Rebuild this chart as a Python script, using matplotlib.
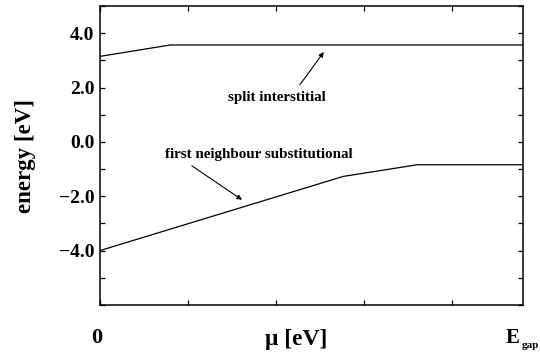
import matplotlib.pyplot as plt
from matplotlib.ticker import MultipleLocator

plt.rcParams["font.family"] = ["Liberation Serif", "DejaVu Serif"]
plt.rcParams["font.weight"] = "bold"

# chemical potential across the gap (eV) and formation energies (eV)
e_gap = 1.2
mu_split = [0.0, 0.2, e_gap]
energy_split = [3.15, 3.57, 3.57]
mu_subst = [0.0, 0.69, 0.90, e_gap]
energy_subst = [-4.0, -1.27, -0.84, -0.84]

fig = plt.figure(figsize=(5.4, 3.6), dpi=100)
ax = fig.add_axes([0.185, 0.153, 0.7835, 0.83])

ax.plot(mu_split, energy_split, color="black", lw=0.9)
ax.plot(mu_subst, energy_subst, color="black", lw=0.9)

ax.set_xlim(0, e_gap)
ax.set_ylim(-6, 5)
ax.xaxis.set_major_locator(MultipleLocator(0.25))
ax.xaxis.set_major_formatter(plt.NullFormatter())
ax.set_yticks([-4, -2, 0, 2, 4])
ax.set_yticklabels(["\u22124.0", "\u22122.0", "0.0", "2.0", "4.0"])
ax.yaxis.set_minor_locator(MultipleLocator(1.0))
ax.tick_params(which="both", direction="in", top=True, right=True,
               length=3.5, width=0.9, labelsize=14, pad=4)
for label in ax.get_yticklabels():
    label.set_fontweight("bold")
for sp in ax.spines.values():
    sp.set_linewidth(1.1)

ax.set_ylabel("energy [eV]", fontsize=16.5, fontweight="bold", labelpad=16)

arrow = dict(arrowstyle="-|>", color="black", lw=0.8, mutation_scale=7,
             shrinkA=0, shrinkB=0)
ax.annotate("", xy=(0.635, 3.31), xytext=(0.567, 2.10), arrowprops=arrow)
ax.text(0.502, 1.62, "split interstitial", fontsize=10.8, fontweight="bold",
        ha="center", va="center")
ax.annotate("", xy=(0.403, -2.13), xytext=(0.261, -0.88), arrowprops=arrow)
ax.text(0.451, -0.47, "first neighbour substitutional", fontsize=10.8,
        fontweight="bold", ha="center", va="center")

# labels under the axis: band edges and axis title
fig.text(96.5 / 540, 1 - 338 / 360, "0", fontsize=16, fontweight="bold",
         ha="center", va="center")
fig.text(512.5 / 540, 1 - 343 / 360, "E", fontsize=15, fontweight="bold",
         ha="center", va="baseline")
fig.text(522 / 540, 1 - 348 / 360, "gap", fontsize=8, fontweight="bold",
         ha="left", va="baseline")
fig.text(296 / 540, 1 - 340 / 360, "\u03bc [eV]", fontsize=17,
         fontweight="bold", ha="center", va="center")

fig.savefig("out.png", dpi=100)
